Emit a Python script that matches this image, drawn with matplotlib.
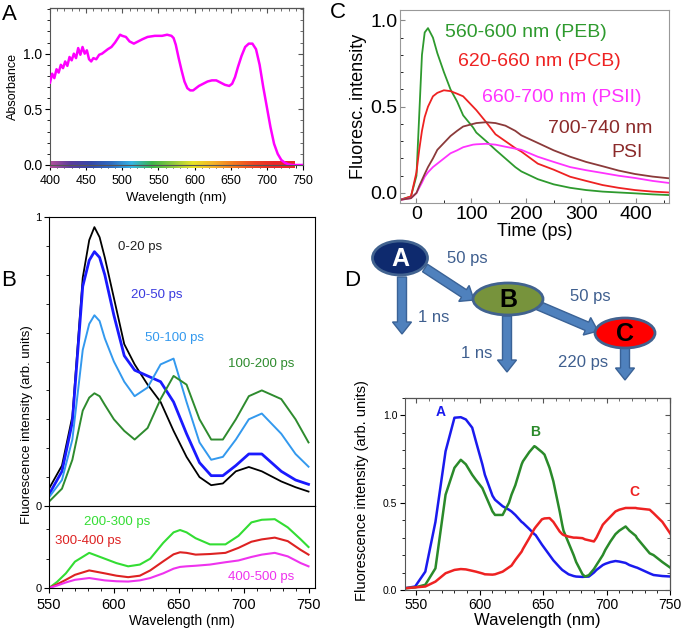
import numpy as np
import matplotlib
matplotlib.use("Agg")
import matplotlib.pyplot as plt
from matplotlib.patches import Ellipse, FancyArrow
from matplotlib.colors import LinearSegmentedColormap
from matplotlib.ticker import MultipleLocator, FixedLocator, FormatStrFormatter, NullFormatter

plt.rcParams['font.family'] = ['Liberation Sans', 'DejaVu Sans']

###########
# Data    #
###########
# A: absorbance spectrum
abs_wl = [400, 403, 406, 409, 412, 415, 418, 421, 424, 427, 430, 433, 436, 439, 442, 445, 448, 451, 454,
          457, 460, 464, 468, 472, 476, 480, 485, 490, 494, 497, 500, 505, 510, 516, 522, 528, 535, 545,
          555, 562, 568, 571, 574, 578, 582, 586, 590, 594, 598, 602, 606, 612, 618, 624, 630, 636, 642,
          648, 652, 656, 660, 665, 670, 675, 680, 685, 690, 695, 700, 705, 710, 715, 720, 725, 730, 735,
          740, 745, 750]
abs_val = [0.74, 0.82, 0.78, 0.86, 0.83, 0.9, 0.87, 0.93, 0.89, 0.97, 0.94, 1.0, 0.96, 1.05, 0.99, 1.06,
           1.0, 1.03, 0.95, 0.93, 0.96, 0.95, 0.99, 1.0, 1.02, 1.04, 1.06, 1.1, 1.14, 1.17, 1.16, 1.15, 1.11,
           1.09, 1.11, 1.13, 1.15, 1.16, 1.16, 1.17, 1.16, 1.14, 1.08, 0.96, 0.85, 0.75, 0.69, 0.67, 0.67,
           0.69, 0.71, 0.73, 0.75, 0.76, 0.76, 0.74, 0.72, 0.71, 0.73, 0.79, 0.88, 0.98, 1.06, 1.09, 1.09,
           1.04, 0.9, 0.7, 0.52, 0.34, 0.19, 0.1, 0.045, 0.02, 0.006, 0.0, 0.0, 0.0, 0.0]
spec_colors = ['#b4509c', '#5a3c9c', '#3448a8', '#2f6cc0', '#36b4e4', '#3cb44a', '#8cc83c', '#e8e428',
               '#f4b428', '#f47820', '#ee4424', '#e82828', '#e82828']

# B: time-resolved emission spectra
b_wl = [550, 560, 568, 576, 581, 585, 589, 593, 600, 608, 616, 626, 636, 646, 656, 666, 675, 684, 694,
        704, 714, 729, 740, 750]
b_0_20 = [0.06, 0.14, 0.31, 0.79, 0.92, 0.965, 0.93, 0.86, 0.72, 0.56, 0.49, 0.42, 0.36, 0.26, 0.17,
          0.10, 0.072, 0.078, 0.12, 0.135, 0.12, 0.085, 0.065, 0.05]
b_20_50 = [0.04, 0.12, 0.29, 0.76, 0.85, 0.88, 0.86, 0.80, 0.66, 0.52, 0.47, 0.45, 0.43, 0.36, 0.25,
           0.15, 0.105, 0.105, 0.14, 0.18, 0.18, 0.12, 0.09, 0.075]
b_50_100 = [0.03, 0.09, 0.23, 0.54, 0.63, 0.66, 0.64, 0.58, 0.50, 0.43, 0.38, 0.41, 0.49, 0.51, 0.36,
            0.22, 0.16, 0.17, 0.23, 0.30, 0.32, 0.25, 0.18, 0.136]
b_100_200 = [0.015, 0.06, 0.16, 0.33, 0.375, 0.39, 0.38, 0.35, 0.30, 0.26, 0.23, 0.27, 0.37, 0.45, 0.42,
             0.30, 0.23, 0.23, 0.30, 0.38, 0.40, 0.37, 0.30, 0.22]
b_low_wl = [550, 556, 563, 570, 581, 593, 602, 611, 620, 628, 638, 646, 651, 656, 663, 674, 686, 696,
            706, 714, 724, 734, 744, 750]
b_200_300 = [0.0, 0.02, 0.05, 0.09, 0.12, 0.10, 0.085, 0.074, 0.08, 0.10, 0.154, 0.19, 0.198, 0.19, 0.17,
             0.149, 0.149, 0.178, 0.224, 0.233, 0.235, 0.207, 0.166, 0.14]
b_300_400 = [0.0, 0.012, 0.028, 0.045, 0.06, 0.05, 0.042, 0.037, 0.042, 0.06, 0.091, 0.115, 0.122, 0.12,
             0.114, 0.116, 0.12, 0.137, 0.158, 0.166, 0.172, 0.16, 0.13, 0.114]
b_400_500 = [0.0, 0.008, 0.019, 0.028, 0.034, 0.026, 0.023, 0.022, 0.026, 0.034, 0.05, 0.066, 0.072,
             0.074, 0.076, 0.08, 0.088, 0.094, 0.106, 0.114, 0.12, 0.108, 0.085, 0.074]

# C: decay kinetics
c_t = [-30, -10, 0, 5, 10, 15, 21, 30, 38, 50, 62, 74, 85, 103, 109, 127, 144, 162, 180, 191, 221, 250,
       280, 309, 339, 368, 398, 430, 460]
c_peb = [-0.04, -0.02, 0.1, 0.45, 0.8, 0.93, 0.955, 0.9, 0.81, 0.7, 0.6, 0.53, 0.45, 0.38, 0.35, 0.3,
         0.25, 0.2, 0.15, 0.125, 0.08, 0.05, 0.03, 0.017, 0.008, 0.003, -0.002, -0.008, -0.012]
c_pcb = [-0.04, -0.02, 0.12, 0.25, 0.36, 0.44, 0.5, 0.56, 0.58, 0.595, 0.59, 0.575, 0.56, 0.5, 0.48,
         0.41, 0.34, 0.3, 0.26, 0.24, 0.17, 0.135, 0.094, 0.07, 0.046, 0.03, 0.017, 0.008, 0.003]
c_psii = [-0.04, -0.03, 0.0, 0.03, 0.06, 0.094, 0.12, 0.15, 0.17, 0.2, 0.23, 0.247, 0.265, 0.28, 0.282,
          0.285, 0.28, 0.268, 0.257, 0.25, 0.21, 0.18, 0.15, 0.132, 0.116, 0.1, 0.087, 0.07, 0.058]
c_psi = [-0.04, -0.03, 0.0, 0.04, 0.075, 0.11, 0.15, 0.2, 0.25, 0.29, 0.33, 0.36, 0.385, 0.4, 0.405,
         0.41, 0.405, 0.39, 0.36, 0.334, 0.29, 0.247, 0.21, 0.18, 0.155, 0.13, 0.11, 0.095, 0.085]

# D: species-associated spectra
d_wl = [541, 549, 557, 565, 573, 580, 585, 589, 594, 597, 602, 604, 610, 612, 618, 623, 625, 628, 633,
        634, 639, 643, 644, 649, 651, 655, 658, 663, 665, 666, 670, 674, 676, 681, 683, 686, 690, 692,
        697, 699, 703, 707, 710, 715, 718, 723, 724, 734, 737, 744, 751]
d_A = [0.01, 0.02, 0.105, 0.39, 0.795, 0.987, 0.99, 0.977, 0.93, 0.85, 0.72, 0.66, 0.54, 0.517, 0.48,
       0.46, 0.45, 0.43, 0.39, 0.385, 0.35, 0.32, 0.315, 0.26, 0.24, 0.2, 0.17, 0.13, 0.115, 0.11, 0.09,
       0.08, 0.077, 0.075, 0.076, 0.077, 0.1, 0.115, 0.143, 0.15, 0.16, 0.166, 0.163, 0.155, 0.143, 0.13,
       0.128, 0.095, 0.086, 0.08, 0.077]
d_B = [0.01, 0.015, 0.03, 0.124, 0.546, 0.7, 0.746, 0.72, 0.66, 0.63, 0.584, 0.55, 0.45, 0.43, 0.43,
       0.5, 0.546, 0.6, 0.72, 0.737, 0.79, 0.824, 0.82, 0.79, 0.776, 0.7, 0.623, 0.45, 0.374, 0.34,
       0.27, 0.2, 0.16, 0.09, 0.077, 0.085, 0.12, 0.143, 0.2, 0.23, 0.278, 0.32, 0.34, 0.364, 0.34,
       0.31, 0.297, 0.21, 0.2, 0.16, 0.124]
d_C = [0.01, 0.015, 0.02, 0.048, 0.096, 0.115, 0.12, 0.118, 0.11, 0.105, 0.095, 0.09, 0.088, 0.09,
       0.105, 0.13, 0.14, 0.172, 0.22, 0.235, 0.297, 0.35, 0.36, 0.405, 0.41, 0.412, 0.39, 0.335, 0.32,
       0.315, 0.306, 0.3, 0.3, 0.297, 0.29, 0.285, 0.278, 0.3, 0.374, 0.39, 0.42, 0.45, 0.46, 0.47, 0.47,
       0.47, 0.468, 0.46, 0.44, 0.39, 0.315]

# kinetic scheme
nodes = {'A': (400, 258, 55, 34, '#0e2a6e', 'white'),
         'B': (508, 299, 70, 32, '#77933c', 'black'),
         'C': (625, 333, 60, 30, '#ff0000', 'black')}
steps = [((425, 268), (474, 300), '50 ps', (467, 259)),
         ((402, 277), (402, 334), '1 ns', (434, 317)),
         ((507, 316), (507, 372), '1 ns', (477, 353)),
         ((537, 305), (598, 331), '50 ps', (590, 296)),
         ((625, 348), (625, 380), '220 ps', (583, 363))]

W, H = 685, 633
fig = plt.figure(figsize=(W / 100, H / 100), dpi=100)


def box(l, t, r, b):
    return [l / W, 1 - b / H, (r - l) / W, (b - t) / H]


def set_ticks(ax, size, direction='out'):
    ax.tick_params(which='both', direction=direction, labelsize=size, pad=2)
    ax.tick_params(which='major', length=3.5)
    ax.tick_params(which='minor', length=2)


def mirror(ax, xmaj, xmin, ymaj, ymin):
    # Origin style: inward ticks on the top and right spines
    top = ax.secondary_xaxis('top')
    top.xaxis.set_major_locator(MultipleLocator(xmaj))
    top.xaxis.set_minor_locator(MultipleLocator(xmin))
    top.xaxis.set_major_formatter(NullFormatter())
    right = ax.secondary_yaxis('right')
    right.yaxis.set_major_locator(MultipleLocator(ymaj))
    right.yaxis.set_minor_locator(MultipleLocator(ymin))
    right.yaxis.set_major_formatter(NullFormatter())
    for sec in (top, right):
        sec.tick_params(which='both', direction='in', colors='#555555')
        sec.tick_params(which='major', length=3.5)
        sec.tick_params(which='minor', length=2)


#########
# A     #
#########
axA = fig.add_axes(box(50, 8, 303, 165))
axA.plot(abs_wl, abs_val, color='#ff00ff', lw=1.8, zorder=3)
spec_cmap = LinearSegmentedColormap.from_list('spec', spec_colors)
axA.imshow(np.linspace(0, 1, 256)[None, :], cmap=spec_cmap, aspect='auto',
           extent=(400, 738, -0.03, 0.03), zorder=2, clip_on=False)
axA.set_xlim(400, 750)
axA.set_ylim(0, 1.41)
axA.xaxis.set_major_locator(MultipleLocator(50))
axA.xaxis.set_minor_locator(MultipleLocator(10))
axA.yaxis.set_major_locator(FixedLocator([0, 0.5, 1.0]))
axA.yaxis.set_minor_locator(MultipleLocator(0.1))
axA.yaxis.set_major_formatter(FormatStrFormatter('%.1f'))
set_ticks(axA, 9)
axA.tick_params(axis='x', pad=4)
axA.tick_params(axis='y', labelsize=10)
mirror(axA, 50, 10, 0.5, 0.1)
axA.set_ylabel('Absorbance', fontsize=9, labelpad=3)
axA.set_xlabel('Wavelength (nm)', fontsize=9.5, labelpad=3)
for s in axA.spines.values():
    s.set_color('#555555')

#########
# B     #
#########
axB = fig.add_axes(box(49, 217, 315, 506))
axB.plot(b_wl, b_0_20, color='black', lw=1.3)
axB.plot(b_wl, b_20_50, color='#1a1aff', lw=2)
axB.plot(b_wl, b_50_100, color='#3399ee', lw=1.4)
axB.plot(b_wl, b_100_200, color='#2e8b2e', lw=1.4)
axB.set_xlim(550, 755)
axB.set_ylim(0, 1)
axB.set_xticks([])
axB.yaxis.set_major_locator(FixedLocator([0, 1]))
axB.yaxis.set_minor_locator(MultipleLocator(0.1))
axB.set_yticklabels(['0', '1'])
set_ticks(axB, 8)
axB.text(603, 0.896, '0-20 ps', color='#222222', fontsize=9.5, va='center')
axB.text(613, 0.73, '20-50 ps', color='#3a3adf', fontsize=9.5, va='center')
axB.text(624, 0.58, '50-100 ps', color='#3399ee', fontsize=9.5, va='center')
axB.text(688, 0.49, '100-200 ps', color='#2e8b2e', fontsize=9.5, va='center')

axB2 = fig.add_axes(box(49, 506, 315, 588))
axB2.plot(b_low_wl, b_200_300, color='#33dd33', lw=1.5)
axB2.plot(b_low_wl, b_300_400, color='#dd2222', lw=1.5)
axB2.plot(b_low_wl, b_400_500, color='#ee33ee', lw=1.5)
axB2.set_xlim(550, 755)
axB2.set_ylim(0, 0.28)
axB2.xaxis.set_major_locator(MultipleLocator(50))
axB2.xaxis.set_minor_locator(MultipleLocator(10))
axB2.yaxis.set_major_locator(FixedLocator([0]))
axB2.yaxis.set_minor_locator(MultipleLocator(0.1))
axB2.set_yticklabels(['0'])
set_ticks(axB2, 10.5)
axB2.tick_params(axis='x', pad=4)
axB2.tick_params(axis='y', labelsize=8)
axB2.set_xlabel('Wavelength (nm)', fontsize=10, labelpad=1)
axB2.text(577, 0.225, '200-300 ps', color='#33dd33', fontsize=9.5, va='center')
axB2.text(555, 0.16, '300-400 ps', color='#dd2222', fontsize=9.5, va='center')
axB2.text(688, 0.038, '400-500 ps', color='#ee33ee', fontsize=9.5, va='center')
fig.text(27 / W, 1 - 425 / H, 'Fluorescence intensity (arb. units)', rotation=90,
         fontsize=9.5, ha='center', va='center')

#########
# C     #
#########
axC = fig.add_axes(box(400, 10, 669, 203))
axC.plot(c_t, c_peb, color='#2e9a2e', lw=1.3)
axC.plot(c_t, c_pcb, color='#ee2222', lw=1.3)
axC.plot(c_t, c_psii, color='#ff33ff', lw=1.3)
axC.plot(c_t, c_psi, color='#8b3a3a', lw=1.3)
axC.set_xlim(-30, 460)
axC.set_ylim(-0.058, 1.06)
axC.xaxis.set_major_locator(MultipleLocator(100))
axC.xaxis.set_minor_locator(MultipleLocator(50))
axC.yaxis.set_major_locator(MultipleLocator(0.5))
axC.yaxis.set_minor_locator(MultipleLocator(0.1))
axC.yaxis.set_major_formatter(FormatStrFormatter('%.1f'))
set_ticks(axC, 14, direction='in')
axC.tick_params(colors='#888888', labelcolor='black')
for s in axC.spines.values():
    s.set_color('#999999')
axC.set_xlabel('Time (ps)', fontsize=13, labelpad=0)
axC.set_ylabel('Fluoresc. intensity', fontsize=13, labelpad=2)
axC.text(52, 0.93, '560-600 nm (PEB)', color='#2e9a2e', fontsize=14, va='center')
axC.text(76, 0.76, '620-660 nm (PCB)', color='#ee2222', fontsize=14, va='center')
axC.text(119, 0.556, '660-700 nm (PSII)', color='#ff33ff', fontsize=14, va='center')
axC.text(429, 0.376, '700-740 nm', color='#8b2a2a', fontsize=14, ha='right', va='center')
axC.text(413, 0.232, 'PSI', color='#8b2a2a', fontsize=14, ha='right', va='center')

#########
# D     #
#########
axD = fig.add_axes(box(405, 398, 670, 590))
axD.plot(d_wl, d_A, color='#1a1aee', lw=1.8)
axD.plot(d_wl, d_B, color='#2a8a2a', lw=1.8)
axD.plot(d_wl, d_C, color='#ee2222', lw=1.8)
axD.set_xlim(541, 750)
axD.set_ylim(0, 1.1)
axD.xaxis.set_major_locator(MultipleLocator(50))
axD.xaxis.set_minor_locator(MultipleLocator(10))
axD.yaxis.set_major_locator(MultipleLocator(0.5))
axD.yaxis.set_minor_locator(MultipleLocator(0.1))
axD.yaxis.set_major_formatter(FormatStrFormatter('%.1f'))
set_ticks(axD, 10)
axD.tick_params(axis='y', labelsize=7.5)
mirror(axD, 50, 10, 0.5, 0.1)
for s in axD.spines.values():
    s.set_color('#555555')
axD.set_xlabel('Wavelength (nm)', fontsize=12, labelpad=1)
axD.text(569, 1.017, 'A', color='#1a1aee', fontsize=10, fontweight='bold', ha='center', va='center')
axD.text(643.5, 0.908, 'B', color='#2a8a2a', fontsize=10, fontweight='bold', ha='center', va='center')
axD.text(722, 0.563, 'C', color='#ee2222', fontsize=10, fontweight='bold', ha='center', va='center')
fig.text(362 / W, 1 - 491 / H, 'Fluorescence intensity (arb. units)', rotation=90,
         fontsize=10.5, ha='center', va='center')

##################
# Scheme, labels #
##################
ov = fig.add_axes([0, 0, 1, 1], facecolor='none')
ov.set_xlim(0, W)
ov.set_ylim(H, 0)
ov.axis('off')
for (x0, y0), (x1, y1), lab, (tx, ty) in steps:
    ov.add_patch(FancyArrow(x0, y0, x1 - x0, y1 - y0, width=9, head_width=19, head_length=12,
                            length_includes_head=True, fc='#4f81bd', ec='#3a6296', lw=1, zorder=2))
    ov.text(tx, ty, lab, color='#3f5f8f', fontsize=12, ha='center', va='center')
for name, (x, y, w, h, fc, tc) in nodes.items():
    ov.add_patch(Ellipse((x, y), w, h, fc=fc, ec='#41628f', lw=2, zorder=3))
    ov.text(x, y + 1, name, color=tc, fontsize=18, fontweight='bold', ha='center', va='center', zorder=4)

for lab, (x, y) in {'A': (9, 14), 'B': (9, 281), 'C': (338, 12), 'D': (352, 281)}.items():
    ov.text(x, y, lab, fontsize=16, ha='center', va='center')

fig.savefig('out.png', dpi=100)
